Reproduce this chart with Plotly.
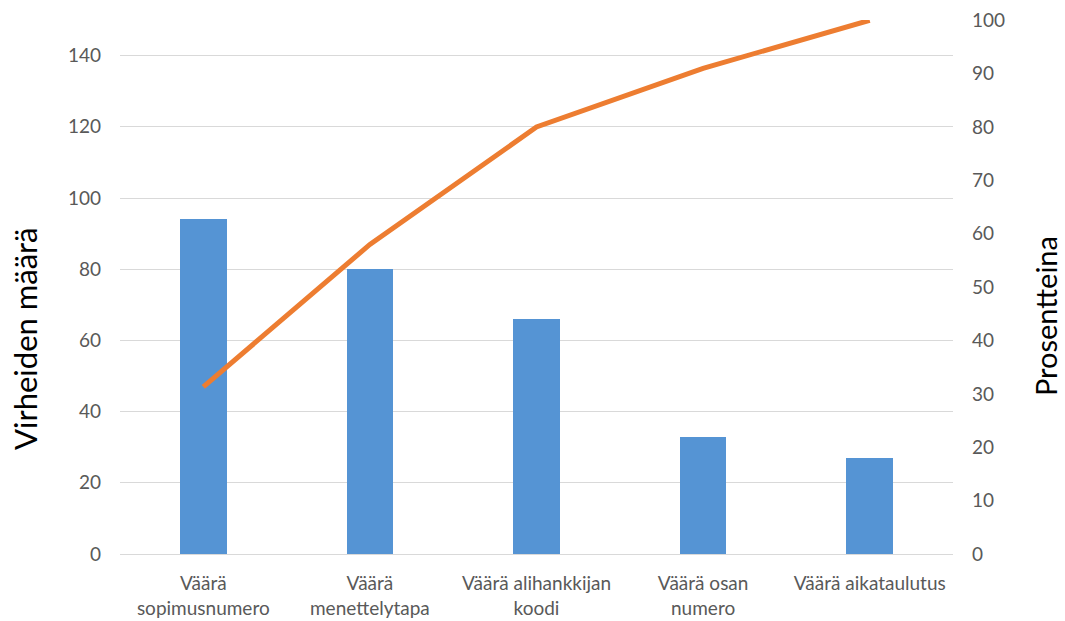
import plotly.graph_objects as go

categories = ["Väärä<br>sopimusnumero", "Väärä<br>menettelytapa", "Väärä alihankkijan<br>koodi",
              "Väärä osan<br>numero", "Väärä aikataulutus"]
counts = [94, 80, 66, 33, 27]
cumulative_pct = [31.3, 58.0, 80.0, 91.0, 100.0]
left_title = "Virheiden määrä"
right_title = "Prosentteina"

font_family = "Lato, 'Open Sans', sans-serif"
tick_color = "#595959"

fig = go.Figure()
fig.add_trace(go.Bar(
    x=categories, y=counts, width=0.28,
    marker=dict(color="#5594D4", line=dict(width=0)),
    yaxis="y", showlegend=False,
))
fig.add_trace(go.Scatter(
    x=categories, y=cumulative_pct, mode="lines",
    line=dict(color="#ED7D31", width=5),
    yaxis="y2", showlegend=False,
))

fig.update_layout(
    width=1065, height=621,
    margin=dict(l=120, r=112, t=20, b=67),
    plot_bgcolor="white", paper_bgcolor="white",
    font=dict(family=font_family, color=tick_color, size=19),
    bargap=0,
    xaxis=dict(
        showgrid=False, showline=False, zeroline=False, ticks="",
        automargin=False, ticklabelstandoff=16,
        tickfont=dict(size=19, color=tick_color),
    ),
    yaxis=dict(
        range=[0, 150], tickvals=[0, 20, 40, 60, 80, 100, 120, 140],
        showgrid=True, gridcolor="#D9D9D9", gridwidth=1,
        zeroline=True, zerolinecolor="#D9D9D9", zerolinewidth=1,
        showline=False, ticks="", ticklabelstandoff=18, automargin=False,
        tickfont=dict(size=19, color=tick_color),
    ),
    yaxis2=dict(
        range=[0, 100.05], tickvals=list(range(0, 101, 10)),
        overlaying="y", side="right",
        showgrid=False, zeroline=False, showline=False, ticks="", ticklabelstandoff=18,
        automargin=False,
        tickfont=dict(size=19, color=tick_color),
    ),
    annotations=[
        dict(text=left_title, xref="paper", yref="paper", x=-0.114, y=0.4026,
             xanchor="center", yanchor="middle", textangle=-90, showarrow=False,
             font=dict(size=31, color="#000000", family=font_family)),
        dict(text=right_title, xref="paper", yref="paper", x=1.1117, y=0.4457,
             xanchor="center", yanchor="middle", textangle=-90, showarrow=False,
             font=dict(size=29, color="#000000", family=font_family)),
    ],
)

fig.write_html(
    "out.html",
    config={"displayModeBar": False},
    post_script="document.body.style.margin='0';document.body.style.overflow='hidden';",
)
